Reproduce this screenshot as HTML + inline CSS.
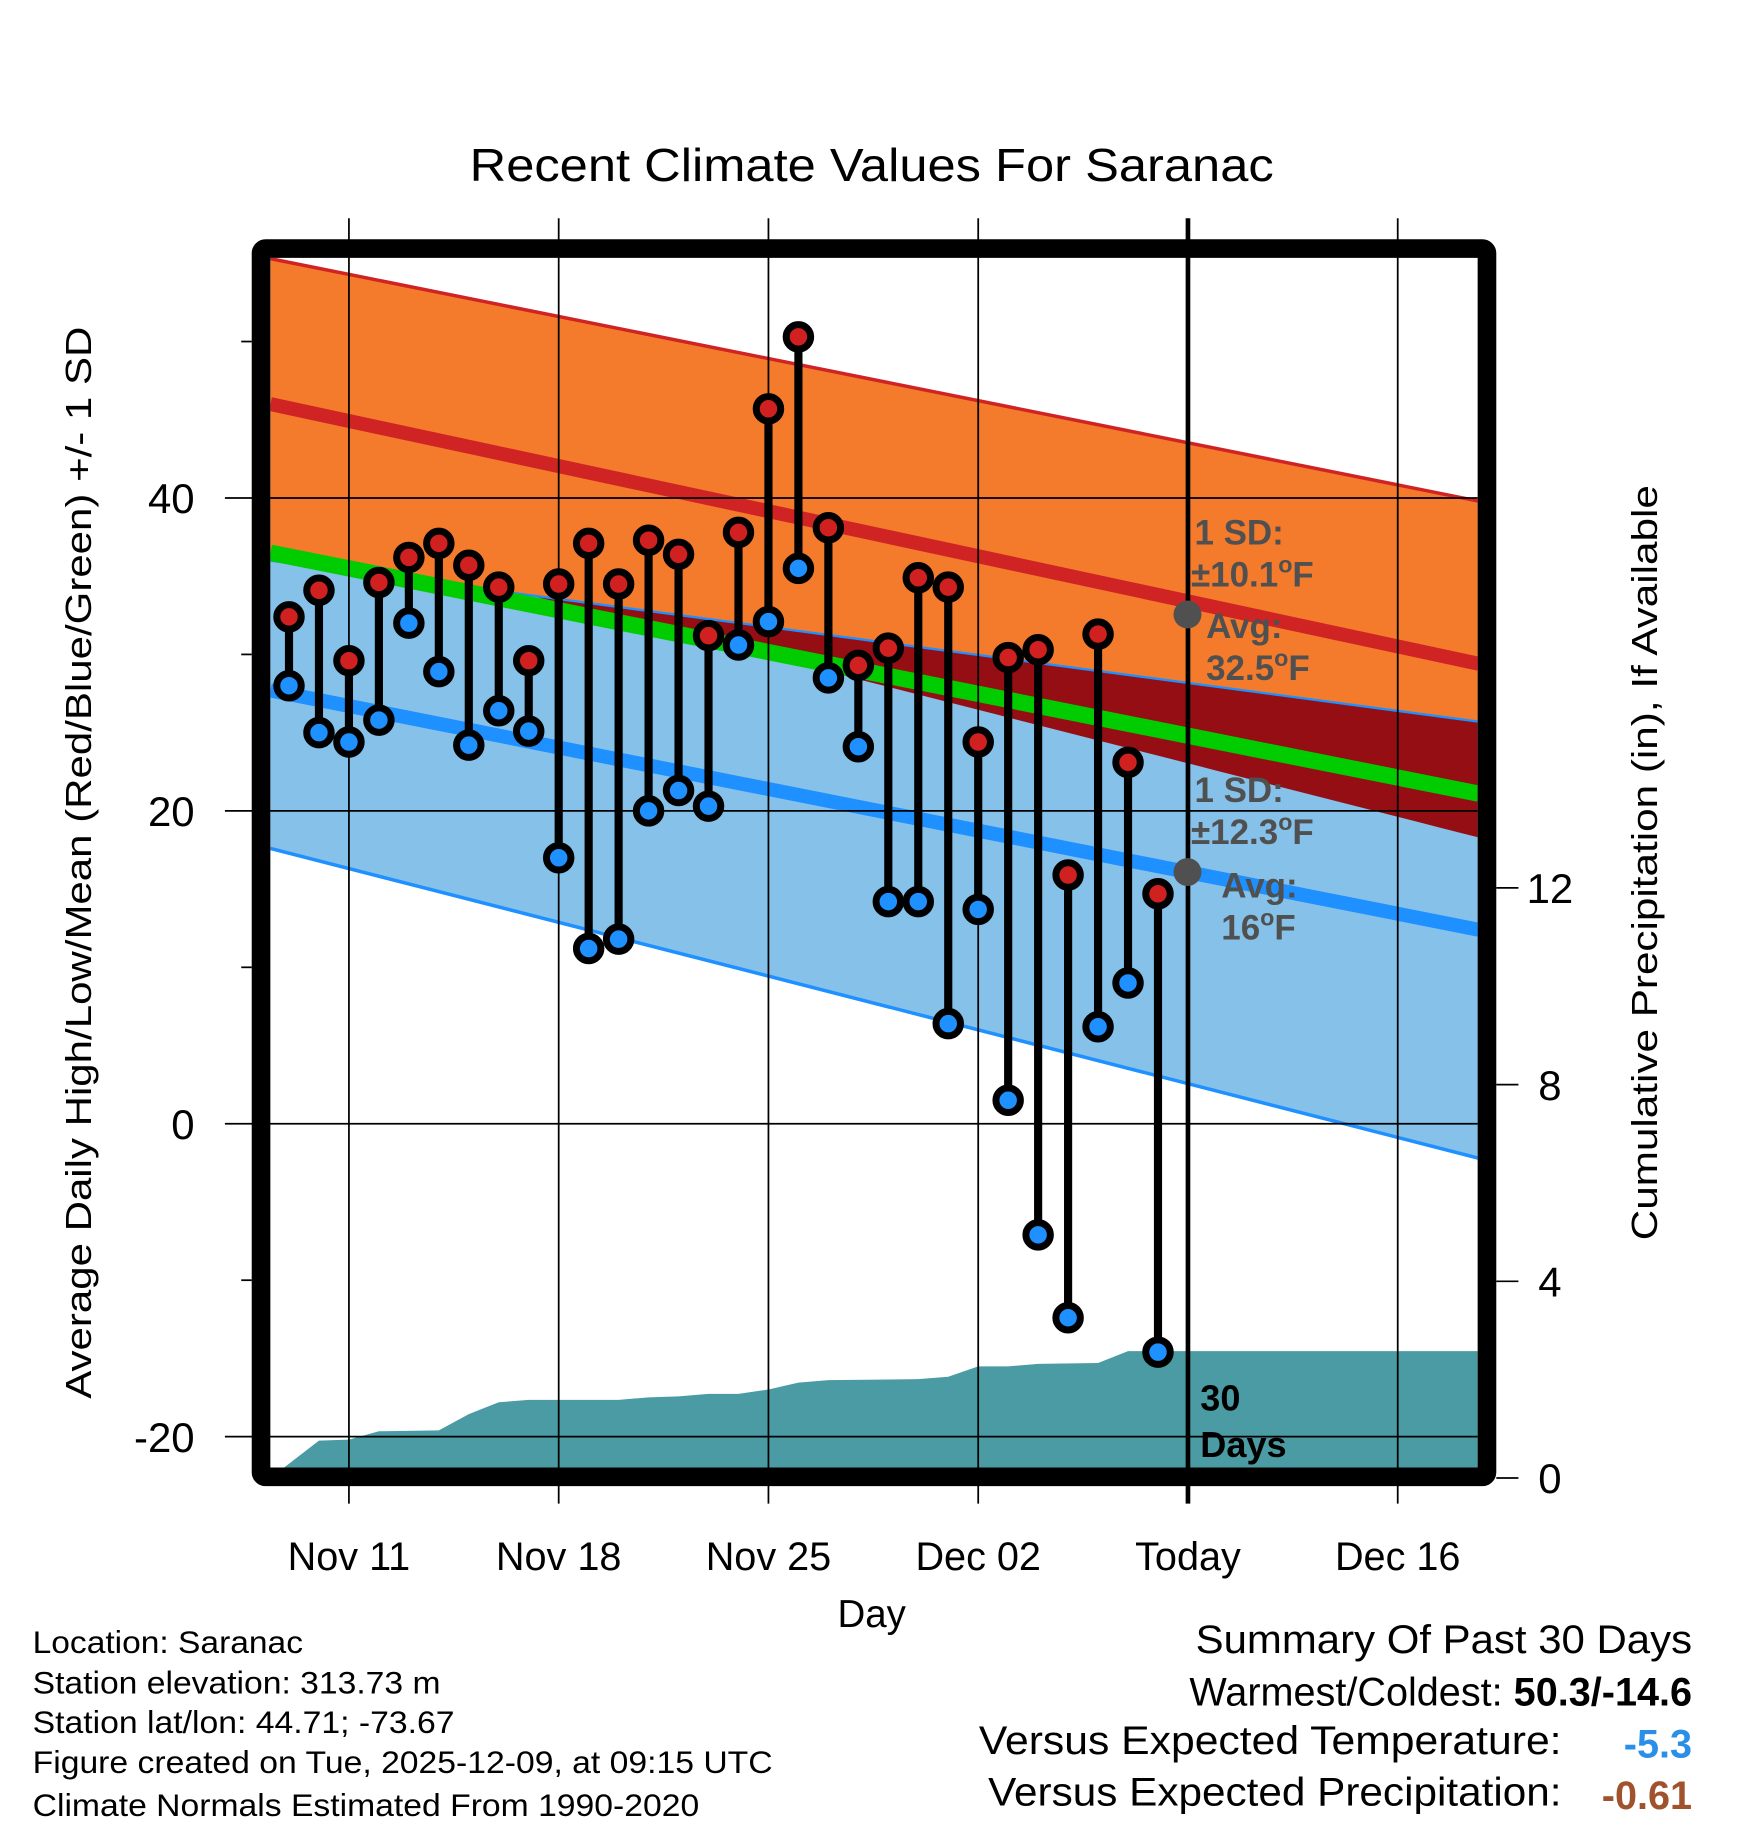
<!DOCTYPE html>
<html><head><meta charset="utf-8"><style>
html,body{margin:0;padding:0;background:#fff;}
svg{display:block;font-family:"Liberation Sans",Arial,sans-serif;}
</style></head><body>
<svg id="chart" width="1748" height="1828" viewBox="0 0 1500 1568" xmlns="http://www.w3.org/2000/svg">
<defs><clipPath id="plotclip"><rect x="232" y="221" width="1036" height="1039"/></clipPath></defs>
<g id="bands" clip-path="url(#plotclip)"></g>
<g id="grid"></g>
<g id="marks"></g>
<g id="axes"></g>
<text x="748" y="155" font-size="40" text-anchor="middle" textLength="690" lengthAdjust="spacingAndGlyphs">Recent Climate Values For Saranac</text>
<text x="748" y="1396" font-size="33" text-anchor="middle">Day</text>
<text transform="translate(78,740) rotate(-90)" font-size="31" text-anchor="middle" textLength="920" lengthAdjust="spacingAndGlyphs">Average Daily High/Low/Mean (Red/Blue/Green) +/- 1 SD</text>
<text transform="translate(1422,740) rotate(-90)" font-size="31" text-anchor="middle" textLength="648" lengthAdjust="spacingAndGlyphs">Cumulative Precipitation (in), If Available</text>
<g font-weight="bold" font-size="30" fill="#505050">
<text x="1025" y="467">1 SD:</text>
<text x="1022" y="503">±10.1<tspan font-size="20" dy="-12">o</tspan><tspan dy="12">F</tspan></text>
<text x="1035" y="547">Avg:</text>
<text x="1035" y="583">32.5<tspan font-size="20" dy="-12">o</tspan><tspan dy="12">F</tspan></text>
<circle cx="1019" cy="527" r="12" fill="#505050"/>
</g>
<g font-weight="bold" font-size="30" fill="#505050">
<text x="1025" y="688">1 SD:</text>
<text x="1022" y="724">±12.3<tspan font-size="20" dy="-12">o</tspan><tspan dy="12">F</tspan></text>
<text x="1048" y="770">Avg:</text>
<text x="1048" y="806">16<tspan font-size="20" dy="-12">o</tspan><tspan dy="12">F</tspan></text>
<circle cx="1019" cy="748" r="12" fill="#505050"/>
</g>
<g font-weight="bold" font-size="31" fill="#000">
<text x="1030" y="1210">30</text><text x="1030" y="1250">Days</text>
</g>
<g font-size="27" fill="#000">
<text x="28" y="1418" textLength="232" lengthAdjust="spacingAndGlyphs">Location: Saranac</text>
<text x="28" y="1453" textLength="350" lengthAdjust="spacingAndGlyphs">Station elevation: 313.73 m</text>
<text x="28" y="1487" textLength="362" lengthAdjust="spacingAndGlyphs">Station lat/lon: 44.71; -73.67</text>
<text x="28" y="1521" textLength="635" lengthAdjust="spacingAndGlyphs">Figure created on Tue, 2025-12-09, at 09:15 UTC</text>
<text x="28" y="1558" textLength="572" lengthAdjust="spacingAndGlyphs">Climate Normals Estimated From 1990-2020</text>
</g>
<g font-size="34" fill="#000">
<text x="1452" y="1418" text-anchor="end" textLength="426" lengthAdjust="spacingAndGlyphs">Summary Of Past 30 Days</text>
<text x="1452" y="1463" text-anchor="end">Warmest/Coldest: <tspan font-weight="bold">50.3/-14.6</tspan></text>
<text x="1340" y="1505" text-anchor="end" textLength="500" lengthAdjust="spacingAndGlyphs">Versus Expected Temperature:</text>
<text x="1452" y="1508" text-anchor="end" font-weight="bold" fill="#2a8fe8">-5.3</text>
<text x="1340" y="1549" text-anchor="end" textLength="492" lengthAdjust="spacingAndGlyphs">Versus Expected Precipitation:</text>
<text x="1452" y="1552" text-anchor="end" font-weight="bold" fill="#a0522d">-0.61</text>
</g>
</svg>
<script>
// data (day 0 = Nov 9)
const highs=[32.4,34.1,29.6,34.6,36.2,37.1,35.7,34.3,29.6,34.5,37.1,34.5,37.3,36.4,31.2,37.8,45.7,50.3,38.1,29.3,30.4,34.9,34.3,24.4,29.8,30.3,15.9,31.3,23.1,14.7];
const lows=[28.0,25.0,24.4,25.8,32.0,28.9,24.2,26.4,25.1,17.0,11.2,11.8,20.0,21.3,20.3,30.6,32.1,35.5,28.5,24.1,14.2,14.2,6.4,13.7,1.5,-7.1,-12.4,6.2,9.0,-14.6];
const precipDays=[-0.62,1,2,3,5,6,7,8,11,12,13,14,15,16,17,18,21,22,23,24,25,27,28,39.7];
const precipVals=[0,0.76,0.78,0.95,0.97,1.3,1.54,1.59,1.59,1.64,1.66,1.71,1.71,1.8,1.94,1.99,2.01,2.06,2.27,2.27,2.32,2.34,2.58,2.58];
const normDays=[-0.62,39.7];
const highUpper=[55.3,39.8];
const highMean=[46.0,29.4];
const highLower=[38.0,18.3];
const avgMean=[36.5,21.1];
const lowUpper=[36.0,25.7];
const lowMean=[27.7,12.4];
const lowLower=[17.6,-2.2];
const tempTicks=[40,20,0,-20];
const minorTicks=[50,30,10,-10];
const precipTicks=[0,4,8,12];
const dateTicks=[2,9,16,23,30,37];
const dateLabels=["Nov 11","Nov 18","Nov 25","Dec 02","Today","Dec 16"];

const NS="http://www.w3.org/2000/svg";
const X=d=>248+d*25.714;
const Y=v=>964-v*13.425;
const P=p=>1268-p*42.2;
function mk(tag,attrs,parent){const e=document.createElementNS(NS,tag);for(const k in attrs)e.setAttribute(k,attrs[k]);parent.appendChild(e);return e;}
function lineAt(arr,d){const t=(d-normDays[0])/(normDays[1]-normDays[0]);return arr[0]+(arr[1]-arr[0])*t;}
function band(top,bot){const a=normDays[0],b=normDays[1];return `${X(a)},${Y(top[0])} ${X(b)},${Y(top[1])} ${X(b)},${Y(bot[1])} ${X(a)},${Y(bot[0])}`;}
const bands=document.getElementById('bands');
let e;
e=mk('polygon',{points:band(highUpper,lowUpper),fill:'#f47a2c'},bands);


e=mk('polygon',{points:band(lowUpper,lowLower),fill:'#85c1e9'},bands);


{const n=60;const top=[],bot=[];
for(let i=0;i<=n;i++){const d=normDays[0]+(normDays[1]-normDays[0])*i/n;const u=lineAt(lowUpper,d),l=lineAt(highLower,d);if(l<u){top.push(X(d)+','+Y(u));bot.unshift(X(d)+','+Y(l));}}
e=mk('polygon',{points:top.concat(bot).join(' '),fill:'#940e14'},bands);

}
function nline(arr,col,w,name){const a=normDays[0],b=normDays[1];const l=mk('line',{x1:X(a),y1:Y(arr[0]),x2:X(b),y2:Y(arr[1]),stroke:col,'stroke-width':w},bands);}
nline(highUpper,'#d02424',3,'high-upper-sd-line');
nline(lowUpper,'#1e90ff',2,'low-upper-sd-line');
nline(lowLower,'#1e90ff',3,'low-lower-sd-line');
nline(avgMean,'#00cc00',14,'mean-normal-line');
nline(highMean,'#d02424',12,'high-normal-line');
nline(lowMean,'#1e90ff',12,'low-normal-line');
{let pts=precipDays.map((d,i)=>X(d)+','+P(precipVals[i]));pts.push(X(39.7)+','+1268,X(-0.62)+','+1268);
e=mk('polygon',{points:pts.join(' '),fill:'#4a9ba3'},bands);

}

const grid=document.getElementById('grid');
tempTicks.forEach(v=>{e=mk('line',{x1:193,x2:1268,y1:Y(v),y2:Y(v),stroke:'#000','stroke-width':1.5},grid);

});
dateTicks.forEach((d,i)=>{e=mk('line',{x1:X(d),x2:X(d),y1:187,y2:1290,stroke:'#000','stroke-width':d===30?4:1.5},grid);

});

const marks=document.getElementById('marks');
highs.forEach((h,i)=>{const x=X(i);
e=mk('line',{x1:x,x2:x,y1:Y(h),y2:Y(lows[i]),stroke:'#000','stroke-width':7},marks);


e=mk('circle',{cx:x,cy:Y(h),r:10.5,fill:'#d02020',stroke:'#000','stroke-width':6},marks);


e=mk('circle',{cx:x,cy:Y(lows[i]),r:10.5,fill:'#1e90ff',stroke:'#000','stroke-width':6},marks);

});

const axes=document.getElementById('axes');
e=mk('rect',{x:224,y:213,width:1052,height:1054,fill:'none',stroke:'#000','stroke-width':16,rx:4},axes);


tempTicks.forEach(v=>{e=mk('text',{x:167,y:Y(v)+13,'font-size':36,'text-anchor':'end'},axes);e.textContent=v;

});
minorTicks.forEach(v=>{e=mk('line',{x1:207,x2:216,y1:Y(v),y2:Y(v),stroke:'#000','stroke-width':1.5},axes);

});
precipTicks.forEach(p=>{e=mk('line',{x1:1284,x2:1303,y1:P(p),y2:P(p),stroke:'#000','stroke-width':1.5},axes);


e=mk('text',{x:1330,y:P(p)+13,'font-size':36,'text-anchor':'middle'},axes);e.textContent=p;

});
dateTicks.forEach((d,i)=>{e=mk('text',{x:X(d),y:1347,'font-size':34,'text-anchor':'middle'},axes);e.textContent=dateLabels[i];

});
</script>
</body></html>
